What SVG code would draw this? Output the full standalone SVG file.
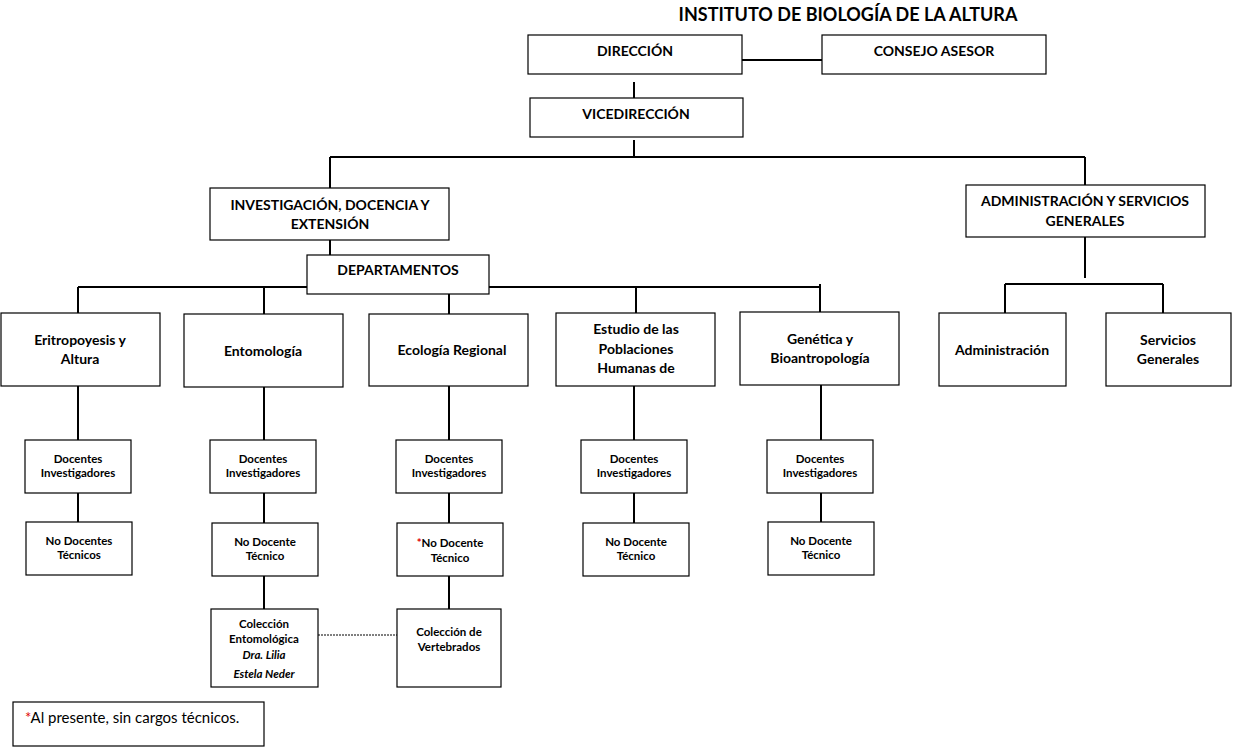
<svg xmlns="http://www.w3.org/2000/svg" width="1235" height="753" viewBox="0 0 1235 753">
<style>
.box{fill:#fff;stroke:#000;stroke-width:1.2}
.c{fill:none;stroke:#000;stroke-width:2}
.d{fill:none;stroke:#000;stroke-width:1;stroke-dasharray:2 1}
text{font-family:Lato,"Liberation Sans",sans-serif;fill:#000;text-anchor:middle}
.t{font-size:18px;font-weight:bold}
.m{font-size:14px;font-weight:bold}
.s{font-size:11.5px;font-weight:bold}
.i{font-style:italic}
.n{font-size:15px;text-anchor:start}
.r{fill:#e00000}
</style>
<rect width="1235" height="753" fill="#fff"/>
<text class="t" x="848" y="21">INSTITUTO DE BIOLOGÍA DE LA ALTURA</text>
<g id="connectors">
<path class="c" d="M742 60H822"/>
<path class="c" d="M634 82V98"/>
<path class="c" d="M634 140V157"/>
<path class="c" d="M330 157H1085"/>
<path class="c" d="M330 157V188"/>
<path class="c" d="M1085 157V185"/>
<path class="c" d="M330 240V256"/>
<path class="c" d="M1085 237V278"/>
<path class="c" d="M1005 284H1163"/>
<path class="c" d="M1005 284V313"/>
<path class="c" d="M1163 284V313"/>
<path class="c" d="M78 287H820"/>
<path class="c" d="M78 287V313"/>
<path class="c" d="M264 287V314"/>
<path class="c" d="M449 294V314"/>
<path class="c" d="M636 287V313"/>
<path class="c" d="M820 284V312"/>
<path class="c" d="M78 386V440M78 493V522"/>
<path class="c" d="M264 387V440M264 493V523M264 576V609"/>
<path class="c" d="M449 386V440M449 493V523M449 576V609"/>
<path class="c" d="M634 386V440M634 493V523"/>
<path class="c" d="M821 385V440M821 493V522"/>
<path class="d" d="M318 635H397"/>
</g>
<g id="direccion"><rect class="box" x="528" y="35" width="214" height="39"/><text class="m" x="635" y="56">DIRECCIÓN</text></g>
<g id="consejo"><rect class="box" x="822" y="35" width="224" height="39"/><text class="m" x="934" y="56">CONSEJO ASESOR</text></g>
<g id="vicedireccion"><rect class="box" x="530" y="98" width="213" height="39"/><text class="m" x="636" y="119">VICEDIRECCIÓN</text></g>
<g id="investigacion"><rect class="box" x="210" y="188" width="239" height="52"/><text class="m" x="330" y="210">INVESTIGACIÓN, DOCENCIA Y</text><text class="m" x="330" y="229">EXTENSIÓN</text></g>
<g id="administracion-servicios"><rect class="box" x="966" y="185" width="239" height="52"/><text class="m" x="1085" y="206">ADMINISTRACIÓN Y SERVICIOS</text><text class="m" x="1085" y="226">GENERALES</text></g>
<g id="departamentos"><rect class="box" x="307" y="255" width="182" height="39"/><text class="m" x="398" y="275">DEPARTAMENTOS</text></g>
<g id="administracion"><rect class="box" x="939" y="313" width="127" height="73"/><text class="m" x="1002" y="355">Administración</text></g>
<g id="servicios"><rect class="box" x="1106" y="313" width="125" height="73"/><text class="m" x="1168" y="345">Servicios</text><text class="m" x="1168" y="364">Generales</text></g>
<g id="eritropoyesis"><rect class="box" x="1" y="313" width="159" height="73"/><text class="m" x="80" y="345">Eritropoyesis y</text><text class="m" x="80" y="364">Altura</text></g>
<g id="entomologia"><rect class="box" x="184" y="314" width="159" height="73"/><text class="m" x="263" y="356">Entomología</text></g>
<g id="ecologia"><rect class="box" x="369" y="314" width="159" height="72"/><text class="m" x="452" y="355">Ecología Regional</text></g>
<g id="estudio"><rect class="box" x="556" y="313" width="159" height="73"/><text class="m" x="636" y="334">Estudio de las</text><text class="m" x="636" y="354">Poblaciones</text><text class="m" x="636" y="373">Humanas de</text></g>
<g id="genetica"><rect class="box" x="740" y="312" width="159" height="73"/><text class="m" x="820" y="344">Genética y</text><text class="m" x="820" y="363">Bioantropología</text></g>
<g id="doc1"><rect class="box" x="25" y="440" width="106" height="53"/><text class="s" x="78" y="463">Docentes</text><text class="s" x="78" y="477">Investigadores</text></g>
<g id="doc2"><rect class="box" x="210" y="440" width="106" height="53"/><text class="s" x="263" y="463">Docentes</text><text class="s" x="263" y="477">Investigadores</text></g>
<g id="doc3"><rect class="box" x="396" y="440" width="106" height="53"/><text class="s" x="449" y="463">Docentes</text><text class="s" x="449" y="477">Investigadores</text></g>
<g id="doc4"><rect class="box" x="581" y="440" width="106" height="53"/><text class="s" x="634" y="463">Docentes</text><text class="s" x="634" y="477">Investigadores</text></g>
<g id="doc5"><rect class="box" x="767" y="440" width="106" height="53"/><text class="s" x="820" y="463">Docentes</text><text class="s" x="820" y="477">Investigadores</text></g>
<g id="nodoc1"><rect class="box" x="26" y="522" width="106" height="53"/><text class="s" x="79" y="545">No Docentes</text><text class="s" x="79" y="559">Técnicos</text></g>
<g id="nodoc2"><rect class="box" x="212" y="523" width="106" height="53"/><text class="s" x="265" y="546">No Docente</text><text class="s" x="265" y="560">Técnico</text></g>
<g id="nodoc3"><rect class="box" x="397" y="523" width="106" height="53"/><text class="s" x="450" y="547"><tspan class="r">*</tspan>No Docente</text><text class="s" x="450" y="562">Técnico</text></g>
<g id="nodoc4"><rect class="box" x="583" y="523" width="106" height="53"/><text class="s" x="636" y="546">No Docente</text><text class="s" x="636" y="560">Técnico</text></g>
<g id="nodoc5"><rect class="box" x="768" y="522" width="106" height="53"/><text class="s" x="821" y="545">No Docente</text><text class="s" x="821" y="559">Técnico</text></g>
<g id="coleccion-entomologica"><rect class="box" x="211" y="609" width="107" height="78"/><text class="s" x="264" y="628">Colección</text><text class="s" x="264" y="643">Entomológica</text><text class="s i" x="264" y="659">Dra. Lilia</text><text class="s i" x="264" y="678">Estela Neder</text></g>
<g id="coleccion-vertebrados"><rect class="box" x="397" y="609" width="104" height="78"/><text class="s" x="449" y="636">Colección de</text><text class="s" x="449" y="651">Vertebrados</text></g>
<g id="nota"><rect class="box" x="13" y="702" width="251" height="44"/><text class="n" x="25" y="723"><tspan class="r">*</tspan>Al presente, sin cargos técnicos.</text></g>
</svg>
